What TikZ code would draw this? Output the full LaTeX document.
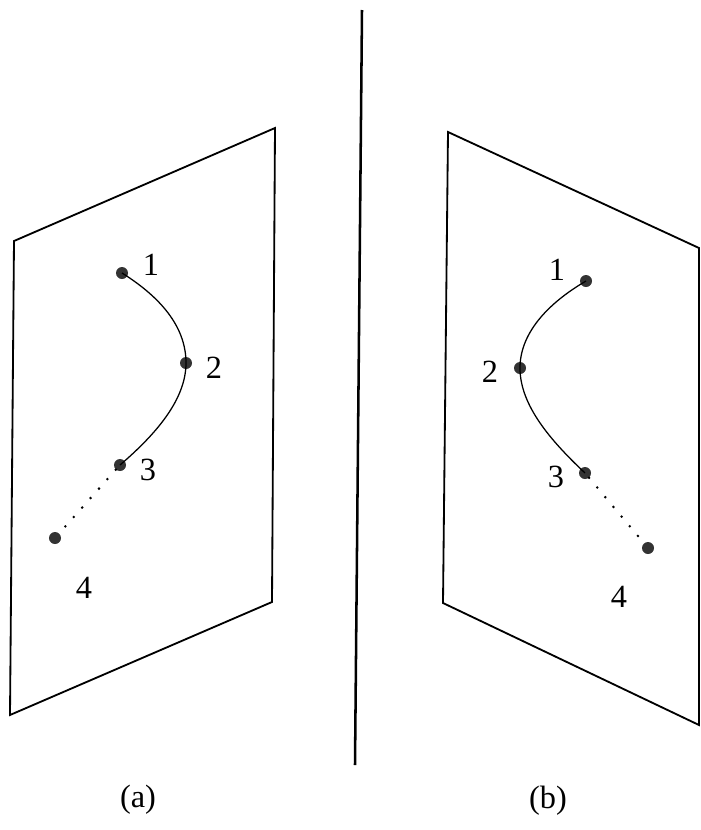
\documentclass[tikz,border=0pt]{standalone}
\usepackage{fontspec}
\setmainfont{Liberation Serif}
\usetikzlibrary{positioning}

\begin{document}
\begin{tikzpicture}[
    x=0.025cm, y=-0.025cm,
    pt/.style={circle, fill=black!80, inner sep=0pt, minimum size=0.3cm},
    lbl/.style={font=\fontsize{23}{26}\selectfont, inner sep=0pt},
    plane/.style={line width=1.3pt, line join=miter},
    arc/.style={line width=0.9pt},
    dots/.style={line width=2pt, line cap=round, dash pattern=on 0pt off 9pt}
]
\useasboundingbox (0,0) rectangle (700,830);

% separator
\coordinate (sepTop) at (362,10);
\coordinate (sepBot) at (355,765);
\draw[line width=1.8pt] (sepTop) -- (sepBot);

% (a)
\draw[plane] (14,241) -- (275,128) -- (272,602) -- (10,715) -- cycle;
\node[pt] (a1) at (122,273) {};
\node[pt] (a2) at (186,363) {};
\node[pt] (a3) at (120,465) {};
\node[pt] (a4) at (55,538) {};
\draw[arc] (a1.center) .. controls (165,300) and (186,330) .. (a2.center)
    .. controls (186,400) and (155,435) .. (a3.center);
\draw[dots] (a3) -- (a4);
\node[lbl] (la1) at (151,265) {1};
\node[lbl] (la2) at (214,368) {2};
\node[lbl] (la3) at (148,470) {3};
\node[lbl] (la4) at (84,588) {4};
\node[lbl] (capa) at (138,800) {(a)};

% (b)
\draw[plane] (448,132) -- (699,248) -- (699,725) -- (443,603) -- cycle;
\node[pt] (b1) at (586,281) {};
\node[pt] (b2) at (520,368) {};
\node[pt] (b3) at (585,473) {};
\node[pt] (b4) at (648,548) {};
\draw[arc] (b1.center) .. controls (545,305) and (520,335) .. (b2.center)
    .. controls (520,405) and (550,440) .. (b3.center);
\draw[dots] (b3) -- (b4);
\node[lbl] (lb1) at (557,270) {1};
\node[lbl] (lb2) at (490,372) {2};
\node[lbl] (lb3) at (556,477) {3};
\node[lbl] (lb4) at (619,597) {4};
\node[lbl] (capb) at (548,801) {(b)};
\end{tikzpicture}
\end{document}
